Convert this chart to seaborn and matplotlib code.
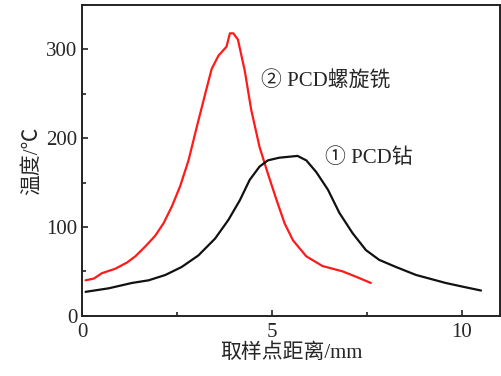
import numpy as np
import pandas as pd
import matplotlib
matplotlib.use('Agg')
import matplotlib.pyplot as plt
import seaborn as sns
from matplotlib.ticker import MultipleLocator

# PCD螺旋铣 (red)
mill_x = [0.09, 0.31, 0.52, 0.87, 1.18, 1.4, 1.66, 1.92, 2.14, 2.36, 2.58, 2.8,
          3.02, 3.24, 3.41, 3.59, 3.76, 3.8, 3.89, 3.98, 4.1, 4.28, 4.45, 4.67,
          4.89, 5.12, 5.33, 5.55, 5.9, 6.33, 6.86, 7.21, 7.6]
mill_y = [40, 42, 48, 53, 60, 67, 78, 90, 104, 123, 146, 175,
          213, 250, 278, 293, 301, 303, 318, 318, 311, 276, 232, 190,
          160, 130, 104, 85, 67, 56, 50, 44, 37]

# PCD钻 (black)
drill_x = [0.09, 0.7, 1.31, 1.75, 2.19, 2.62, 3.06, 3.5, 3.85, 4.15, 4.41, 4.67,
           4.89, 5.19, 5.67, 5.9, 6.16, 6.47, 6.77, 7.12, 7.47, 7.82, 8.26,
           8.79, 9.57, 10.0, 10.5]
drill_y = [27, 31, 37, 40, 46, 55, 68, 87, 108, 130, 153, 168,
           175, 178, 180, 175, 162, 142, 116, 93, 74, 63, 55,
           46, 37, 33, 28.5]

df = pd.concat([
    pd.DataFrame({'x': mill_x, 'y': mill_y, 'tool': 'mill'}),
    pd.DataFrame({'x': drill_x, 'y': drill_y, 'tool': 'drill'}),
])

sns.set_style('ticks')
plt.rcParams['font.family'] = ['Liberation Serif', 'Noto Sans CJK SC', 'DejaVu Sans']
plt.rcParams['axes.unicode_minus'] = False

fig = plt.figure(figsize=(5.01, 3.76), dpi=100)
ax = fig.add_axes([0.164, 0.16, 0.834, 0.827])

sns.lineplot(data=df, x='x', y='y', hue='tool', palette={'mill': '#ff1a1a', 'drill': '#111111'},
             sort=False, estimator=None, linewidth=1.6, legend=False, ax=ax)

ax.set_xlim(0, 11)
ax.set_ylim(0, 350)
ax.xaxis.set_major_locator(MultipleLocator(5))
ax.xaxis.set_minor_locator(MultipleLocator(2.5))
ax.yaxis.set_major_locator(MultipleLocator(100))
ax.yaxis.set_minor_locator(MultipleLocator(50))
ax.tick_params(which='both', direction='in', labelsize=15, width=1.2, color='#222222')
ax.tick_params(which='major', length=4)
ax.tick_params(which='minor', length=3)
ax.tick_params(axis='x', pad=5)
for s in ax.spines.values():
    s.set_linewidth(1.4)
    s.set_color('#222222')

ax.set_xlabel('取样点距离/mm', fontsize=15, labelpad=1)
ax.set_ylabel('温度/℃', fontsize=15, labelpad=3)

ax.text(4.72, 265, '② PCD螺旋铣', fontsize=15, va='center')
ax.text(6.4, 177, '① PCD钻', fontsize=15, va='center')

fig.savefig('out.png', dpi=100)
